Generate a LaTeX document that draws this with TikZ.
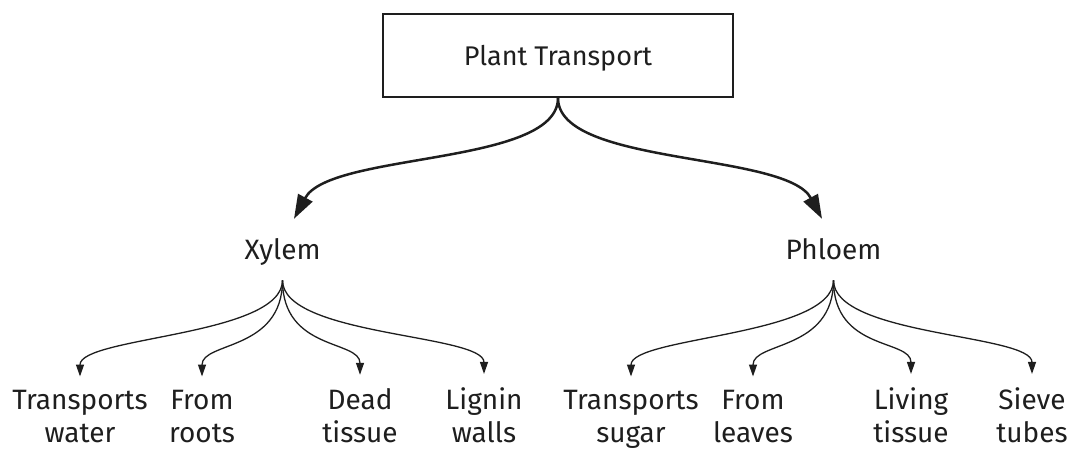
\documentclass[tikz,border=0pt]{standalone}
\usepackage{fontspec}
\setmainfont{Fira Sans}
\usetikzlibrary{arrows.meta}
\definecolor{ink}{HTML}{1E1E1E}
\begin{document}
\begin{tikzpicture}[x=1pt,y=-1pt,
  boxnode/.style={draw=ink, line width=2pt, fill=white, minimum width=350pt, minimum height=83pt,
    inner sep=0pt, text height=19pt, text depth=0pt, font=\fontsize{27}{32}\selectfont, text=ink},
  midnode/.style={anchor=base, inner xsep=0pt, inner ysep=21pt, text height=19pt, text depth=0pt,
    font=\fontsize{28}{33}\selectfont, text=ink},
  leafnode/.style={anchor=base, align=center, inner xsep=0pt, inner ysep=13pt,
    font=\fontsize{28}{33}\selectfont, text=ink},
  bigarrow/.style={draw=ink, line width=2.5pt, -{Triangle[length=24pt,width=16pt]}},
  smallarrow/.style={draw=ink, line width=1.3pt, -{Triangle[length=12pt,width=8pt]}},
]
\useasboundingbox (0,0) rectangle (1073,450);

\node[boxnode] (root) at (558,55.5) {Plant Transport};
\node[midnode] (xylem) at (282.5,259) {Xylem};
\node[midnode] (phloem) at (833.5,259) {Phloem};

\node[leafnode] (water) at (80,442) {Transports\\water};
\node[leafnode] (roots) at (202,442) {From\\roots};
\node[leafnode] (dead) at (360,442) {Dead\\tissue};
\node[leafnode] (lignin) at (484,442) {Lignin\\walls};
\node[leafnode] (sugar) at (631,442) {Transports\\sugar};
\node[leafnode] (leaves) at (753,442) {From\\leaves};
\node[leafnode] (living) at (911,442) {Living\\tissue};
\node[leafnode] (sieve) at (1032,442) {Sieve\\tubes};

\draw[bigarrow] (root.south) .. controls +(0,68) and +(36,-67) .. ([xshift=11.5pt]xylem.north);
\draw[bigarrow] (root.south) .. controls +(0,68) and +(-36,-67) .. ([xshift=-11.5pt]phloem.north);

\draw[smallarrow] (xylem.south) .. controls +(0,56) and +(0,-40) .. (water.north);
\draw[smallarrow] (xylem.south) .. controls +(0,71) and +(0,-35) .. (roots.north);
\draw[smallarrow] (xylem.south) .. controls +(0,71) and +(0,-35) .. (dead.north);
\draw[smallarrow] (xylem.south) .. controls +(0,56) and +(0,-40) .. (lignin.north);

\draw[smallarrow] (phloem.south) .. controls +(0,56) and +(0,-40) .. (sugar.north);
\draw[smallarrow] (phloem.south) .. controls +(0,71) and +(0,-35) .. (leaves.north);
\draw[smallarrow] (phloem.south) .. controls +(0,71) and +(0,-35) .. (living.north);
\draw[smallarrow] (phloem.south) .. controls +(0,56) and +(0,-40) .. (sieve.north);
\end{tikzpicture}
\end{document}
